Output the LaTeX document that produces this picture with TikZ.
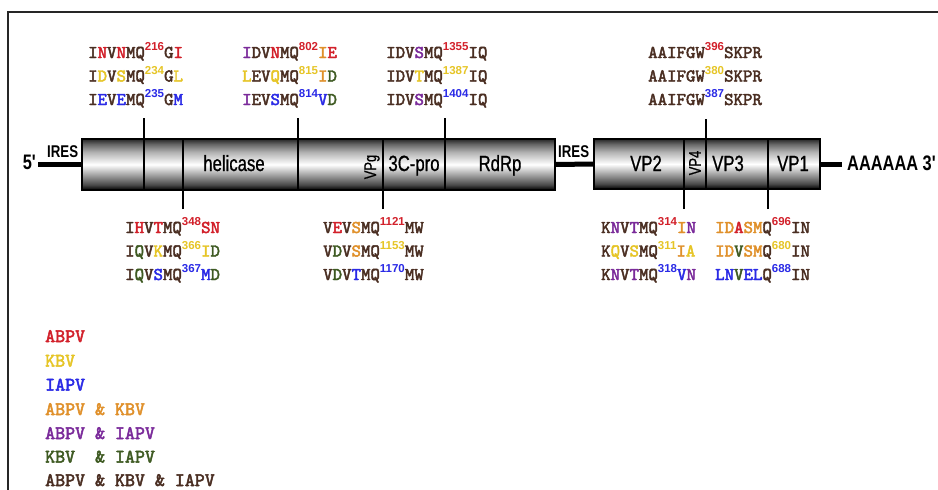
\documentclass[tikz,border=0pt]{standalone}
\usepackage{fontspec}
\setmainfont{Liberation Sans}
\newfontfamily\seqfont[FakeBold=2.6]{lmmono10-regular.otf}
\newfontfamily\numfont{Liberation Sans Bold}
\newfontfamily\lblfont[FakeStretch=0.76,FakeBold=0.8]{Liberation Sans}
\newfontfamily\lblbold[FakeStretch=0.78]{Liberation Sans Bold}

\definecolor{cR}{HTML}{D2202A}
\definecolor{cY}{HTML}{E6C526}
\definecolor{cB}{HTML}{2A2AE6}
\definecolor{cO}{HTML}{E0902A}
\definecolor{cP}{HTML}{7A2A9A}
\definecolor{cG}{HTML}{3E5A22}
\definecolor{cK}{HTML}{4A2E22}

% residue colouring helpers
\newcommand\aR[1]{\textcolor{cR}{#1}}
\newcommand\aY[1]{\textcolor{cY}{#1}}
\newcommand\aB[1]{\textcolor{cB}{#1}}
\newcommand\aO[1]{\textcolor{cO}{#1}}
\newcommand\aP[1]{\textcolor{cP}{#1}}
\newcommand\aG[1]{\textcolor{cG}{#1}}
\newcommand\resnum[2]{\raisebox{7.5pt}{\numfont\fontsize{11.5}{11.5}\selectfont\textcolor{#1}{#2}}}

% cylinder-like shading for the coding regions
\pgfdeclareverticalshading{tube}{100bp}{color(0bp)=(black); color(25bp)=(black);
  color(30bp)=(black!72); color(50bp)=(white); color(62bp)=(black!30);
  color(70bp)=(black!60); color(75bp)=(black!85); color(100bp)=(black!85)}

\begin{document}
\begin{tikzpicture}[x=1pt,y=-1pt,
  seq/.style={anchor=base west,inner sep=0,text=cK,
    font=\seqfont\fontsize{18}{20}\selectfont},
  legend/.style={anchor=base west,inner sep=0,
    font=\seqfont\fontsize{19}{20}\selectfont},
  region/.style={draw=black,line width=1.4pt,shading=tube,inner sep=0},
  lbl/.style={anchor=base,inner sep=0,font=\lblfont\fontsize{22}{23}\selectfont},
  vlbl/.style={inner sep=0,rotate=90,font=\lblfont\fontsize{17}{18}\selectfont},
  endlbl/.style={anchor=base west,inner sep=0,font=\lblbold\fontsize{21}{22}\selectfont},
  ireslbl/.style={anchor=base west,inner sep=0,font=\lblbold\fontsize{17}{18}\selectfont},
  rna/.style={line width=5pt},
  divider/.style={line width=1.8pt},
  tickline/.style={line width=2.6pt},
  frame/.style={line width=2pt,black!85}]

\useasboundingbox (0,0) rectangle (938,490);
\fill[white] (0,0) rectangle (938,490);

% frame
\draw[frame] (8,490) -- (8,12) -- (938,12);

% genome: UTR lines and the two coding regions
\node[region,minimum width=473pt,minimum height=51pt] (box1) at (318.5,164.5) {};
\node[region,minimum width=226pt,minimum height=50pt] (box2) at (707,164) {};
\coordinate (u5) at (38,164.5);
\coordinate (u3) at (842,164);
\draw[rna] (u5) -- (box1.west);
\draw[rna] (box1.east) -- (box2.west);
\draw[rna] (box2.east) -- (u3);

% region boundaries
\foreach \x in {144,183,298,383,445}
  \draw[divider] (\x,139) -- (\x,190);
\foreach \x in {684,706,768}
  \draw[divider] (\x,139) -- (\x,189);

% region labels
\node[lbl] (hel) at (234,171) {helicase};
\node[vlbl] (vpg) at (372,167) {VPg};
\node[lbl] (pro) at (414,171) {3C-pro};
\node[lbl] (rdrp) at (500,171) {RdRp};
\node[lbl] (vp2) at (646,171) {VP2};
\node[vlbl] (vp4) at (695,163) {VP4};
\node[lbl] (vp3) at (728,171) {VP3};
\node[lbl] (vp1) at (793,171) {VP1};
\node[endlbl,anchor=base east] (five) at (36,169) {5'};
\node[endlbl] (three) at (847,170) {AAAAAA 3'};
\node[ireslbl] (ires1) at (47,157) {IRES};
\node[ireslbl] (ires2) at (558,157) {IRES};

% cleavage-site ticks
\coordinate (ta) at (144,118);
\coordinate (tb) at (298,118);
\coordinate (tc) at (445,118);
\coordinate (td) at (706,119);
\coordinate (be) at (183,209);
\coordinate (bf) at (383,209);
\coordinate (bg) at (684,209);
\coordinate (bh) at (768,209);
\draw[tickline] (ta) -- (ta |- box1.north);
\draw[tickline] (tb) -- (tb |- box1.north);
\draw[tickline] (tc) -- (tc |- box1.north);
\draw[tickline] (td) -- (td |- box2.north);
\draw[tickline] (be) -- (be |- box1.south);
\draw[tickline] (bf) -- (bf |- box1.south);
\draw[tickline] (bg) -- (bg |- box2.south);
\draw[tickline] (bh) -- (bh |- box2.south);

% cleavage sites above the genome
\node[seq] (a1) at (88,58)    {I\aR{N}V\aR{N}MQ\resnum{cR}{216}G\aR{I}};
\node[seq] (a2) at (88,81.5)  {I\aY{D}V\aY{S}MQ\resnum{cY}{234}G\aY{L}};
\node[seq] (a3) at (88,105)   {I\aB{E}V\aB{E}MQ\resnum{cB}{235}G\aB{M}};

\node[seq] (b1) at (242,58)   {\aP{I}DV\aR{N}MQ\resnum{cR}{802}\aO{I}\aR{E}};
\node[seq] (b2) at (242,81.5) {\aY{L}EV\aY{Q}MQ\resnum{cY}{815}\aO{I}\aG{D}};
\node[seq] (b3) at (242,105)  {\aP{I}EV\aB{S}MQ\resnum{cB}{814}\aB{V}\aG{D}};

\node[seq] (c1) at (386,58)   {IDV\aP{S}MQ\resnum{cR}{1355}IQ};
\node[seq] (c2) at (386,81.5) {IDV\aY{T}MQ\resnum{cY}{1387}IQ};
\node[seq] (c3) at (386,105)  {IDV\aP{S}MQ\resnum{cB}{1404}IQ};

\node[seq] (d1) at (648,58)   {AAIFGW\resnum{cR}{396}SKPR};
\node[seq] (d2) at (648,81.5) {AAIFGW\resnum{cY}{380}SKPR};
\node[seq] (d3) at (648,105)  {AAIFGW\resnum{cB}{387}SKPR};

% cleavage sites below the genome
\node[seq] (e1) at (125,233)  {I\aR{H}V\aR{T}MQ\resnum{cR}{348}\aR{SN}};
\node[seq] (e2) at (125,256.5){I\aG{Q}V\aY{K}MQ\resnum{cY}{366}\aY{I}\aG{D}};
\node[seq] (e3) at (125,280)  {I\aG{Q}V\aB{S}MQ\resnum{cB}{367}\aB{M}\aG{D}};

\node[seq] (f1) at (323,233)  {V\aR{E}V\aO{S}MQ\resnum{cR}{1121}MW};
\node[seq] (f2) at (323,256.5){V\aG{D}V\aO{S}MQ\resnum{cY}{1153}MW};
\node[seq] (f3) at (323,280)  {V\aG{D}V\aB{T}MQ\resnum{cB}{1170}MW};

\node[seq] (g1) at (601,233)  {K\aP{N}V\aP{T}MQ\resnum{cR}{314}\aO{I}\aP{N}};
\node[seq] (g2) at (601,256.5){K\aY{Q}V\aY{S}MQ\resnum{cY}{311}\aO{I}\aY{A}};
\node[seq] (g3) at (601,280)  {K\aP{N}V\aP{T}MQ\resnum{cB}{318}\aB{V}\aP{N}};

\node[seq] (h1) at (715,233)  {\aO{ID}\aR{A}\aO{SM}Q\resnum{cR}{696}IN};
\node[seq] (h2) at (715,256.5){\aO{ID}\aG{V}\aO{SM}Q\resnum{cY}{680}IN};
\node[seq] (h3) at (715,280)  {\aB{LN}\aG{V}\aB{EL}Q\resnum{cB}{688}IN};

% colour key
\node[legend,text=cR] (k1) at (45,342) {ABPV};
\node[legend,text=cY] (k2) at (45,366.5) {KBV};
\node[legend,text=cB] (k3) at (45,390.5) {IAPV};
\node[legend,text=cO] (k4) at (45,415) {ABPV~\&~KBV};
\node[legend,text=cP] (k5) at (45,439) {ABPV~\&~IAPV};
\node[legend,text=cG] (k6) at (45,462.5) {KBV~~\&~IAPV};
\node[legend,text=cK] (k7) at (45,486) {ABPV~\&~KBV~\&~IAPV};

\end{tikzpicture}
\end{document}
